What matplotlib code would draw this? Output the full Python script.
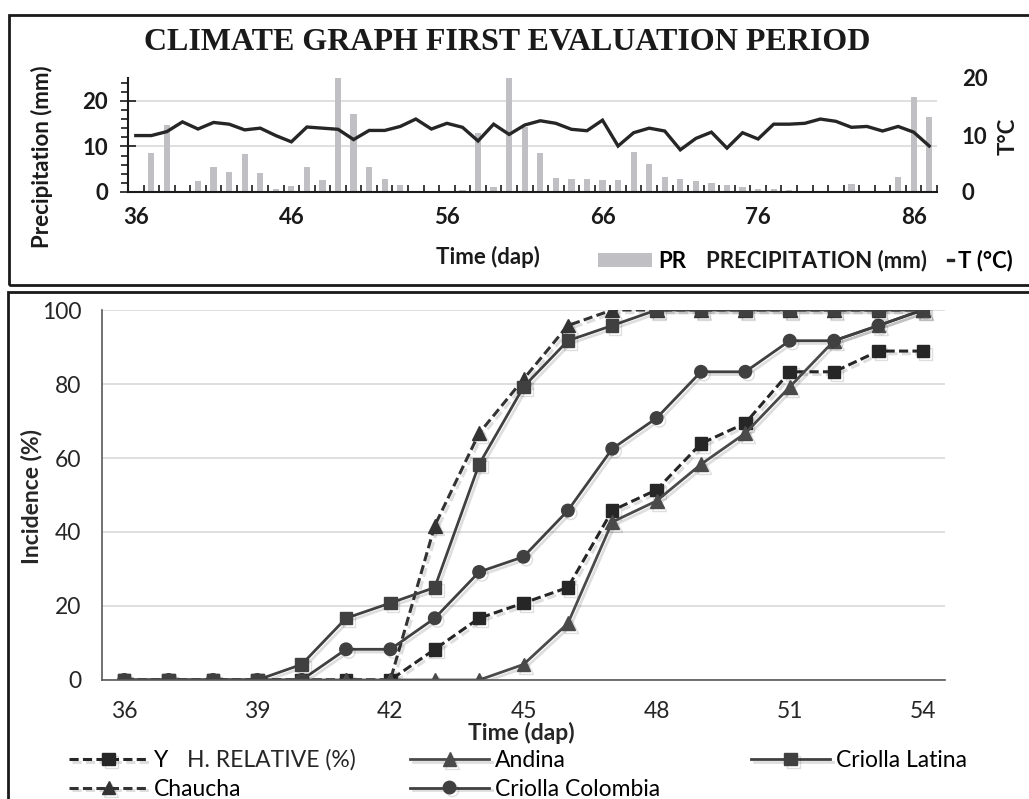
import numpy as np
import matplotlib
matplotlib.use('Agg')
import matplotlib.pyplot as plt
from matplotlib.patches import Rectangle
import matplotlib.patheffects as pe

plt.rcParams['font.family'] = ['Lato', 'DejaVu Sans']

# ---- climate data (top panel), days after planting 36..87
days_top = np.arange(36, 88)
precip = [0, 8.6, 14.8, 0.3, 2.4, 5.4, 4.3, 8.3, 4.1, 0.6,
          1.3, 5.4, 2.7, 25, 17.1, 5.4, 2.8, 1.5, 0.1, 0.2,
          0.2, 0.5, 12.9, 1.2, 25, 14.2, 8.5, 3.0, 2.8, 2.75,
          2.6, 2.6, 8.7, 6.2, 3.2, 2.75, 2.4, 1.9, 1.5, 1.0,
          0.6, 0.6, 0.5, 0.3, 0.3, 0.3, 1.7, 0.3, 0.2, 3.2,
          20.9, 16.4]
temp = [9.9, 9.9, 10.6, 12.3, 11.05, 12.2, 11.9, 10.9, 11.2, 9.9,
        8.8, 11.4, 11.2, 11.0, 9.2, 10.8, 10.8, 11.5, 12.8, 11.05,
        12.05, 11.35, 8.95, 11.9, 10.1, 11.75, 12.5, 12.05, 11.0, 10.75,
        12.6, 8.07, 10.4, 11.2, 10.7, 7.4, 9.4, 10.5, 7.7, 10.4,
        9.3, 11.9, 11.9, 12.05, 12.8, 12.4, 11.35, 11.5, 10.7, 11.5,
        10.5, 8.07]

# ---- incidence data (bottom panel), days 36..54
days = np.arange(36, 55)
yungay = [0, 0, 0, 0, 0, 0, 0, 8.3, 16.7, 20.8, 25, 45.8, 51.4, 63.9, 69.4, 83.3, 83.3, 88.9, 88.9]
chaucha = [0, 0, 0, 0, 0, 0, 0, 41.7, 66.7, 81.3, 95.8, 100, 100, 100, 100, 100, 100, 100, 100]
andina = [0, 0, 0, 0, 0, 0, 0, 0, 0, 4.2, 15.3, 42.7, 48.4, 58.3, 66.7, 79.2, 91.7, 95.8, 100]
colombia = [0, 0, 0, 0, 0, 8.3, 8.3, 16.7, 29.2, 33.3, 45.8, 62.5, 70.8, 83.3, 83.3, 91.7, 91.7, 95.8, 100]
latina = [0, 0, 0, 0, 4.2, 16.7, 20.8, 25, 58.3, 79.2, 91.7, 95.8, 100, 100, 100, 100, 100, 100, 100]

W, H = 1029, 799
fig = plt.figure(figsize=(W / 100, H / 100), dpi=100)


def fx(px):
    return px / W


def fy(py):
    return 1 - py / H


dark = '#1a1a1a'
fs_top = 16
fs_low = 16.5

# frames around the two panels
fig.add_artist(Rectangle((fx(9), fy(285)), fx(1100) - fx(9), fy(15) - fy(285),
                         transform=fig.transFigure, fill=False, ec=dark, lw=2))
fig.add_artist(Rectangle((fx(8), fy(900)), fx(1100) - fx(8), fy(292) - fy(900),
                         transform=fig.transFigure, fill=False, ec=dark, lw=2))

# ================= top: climate graph
ax1 = fig.add_axes([fx(128), fy(192), fx(937) - fx(128), fy(78) - fy(192)])
bars = ax1.bar(days_top, precip, width=0.4, color='#c0c0c4', zorder=2)
ax1.set_xlim(35.5, 87.5)
ax1.set_ylim(0, 25)
ax1.set_xticks(days_top[::10])
ax1.set_xticks(np.arange(35.5, 88, 1), minor=True)
ax1.set_yticks([0, 10, 20])
ax1.set_yticks(np.arange(0, 26, 2), minor=True)
ax1.tick_params(axis='x', which='major', length=0, pad=11, labelsize=fs_top, labelcolor=dark)
ax1.tick_params(axis='x', which='minor', direction='in', length=5, width=1.2, color=dark)
ax1.tick_params(axis='y', which='major', direction='inout', length=11, width=1.2,
                color=dark, pad=9, labelsize=fs_top, labelcolor=dark)
ax1.tick_params(axis='y', which='minor', direction='out', length=5, width=1.2, color=dark)
for lbl in ax1.get_xticklabels() + ax1.get_yticklabels():
    lbl.set_fontweight('bold')
ax1.yaxis.grid(True, which='major', color='#d9d9d9', lw=1.2)
ax1.set_axisbelow(True)
for s in ['top', 'right']:
    ax1.spines[s].set_visible(False)
for s in ['left', 'bottom']:
    ax1.spines[s].set_color(dark)
    ax1.spines[s].set_linewidth(1.5)

ax2 = ax1.twinx()
tline, = ax2.plot(days_top, temp, color='#262626', lw=2.4, solid_joinstyle='miter')
ax2.set_ylim(0, 20)
ax2.set_yticks([0, 10, 20])
ax2.tick_params(axis='y', length=0, pad=18, labelsize=fs_top, labelcolor=dark)
for lbl in ax2.get_yticklabels():
    lbl.set_fontweight('bold')
for s in ax2.spines.values():
    s.set_visible(False)

fig.text(fx(507), fy(43), 'CLIMATE GRAPH FIRST EVALUATION PERIOD', family='Liberation Serif',
         fontweight='bold', fontsize=23, ha='center', va='center', color=dark)
fig.text(fx(42), fy(157), 'Precipitation (mm)', rotation=90, fontweight='bold', fontsize=fs_top,
         ha='center', va='center', color=dark)
fig.text(fx(1008), fy(136), 'T°C', rotation=90, fontweight='bold', fontsize=fs_top,
         ha='center', va='center', color=dark)
fig.text(fx(488), fy(257), 'Time (dap)', fontweight='bold', fontsize=fs_top,
         ha='center', va='center', color=dark)
fig.text(fx(706), fy(261), 'PRECIPITATION (mm)', fontweight='bold', fontsize=fs_top,
         ha='left', va='center', color=dark)

leg_pr = fig.legend([bars.patches[1]], ['PR'], loc='center left', bbox_to_anchor=(fx(598), fy(261)),
                    frameon=False, borderpad=0, borderaxespad=0, handlelength=2.45,
                    handleheight=0.6, handletextpad=0.25, prop={'weight': 'bold', 'size': fs_top})
leg_t = fig.legend([tline], ['T (°C)'], loc='center left', bbox_to_anchor=(fx(948), fy(261)),
                   frameon=False, borderpad=0, borderaxespad=0, handlelength=0.22,
                   handletextpad=0.25, prop={'weight': 'bold', 'size': fs_top})

# ================= bottom: incidence
ax3 = fig.add_axes([fx(102), fy(680), fx(945) - fx(102), fy(310) - fy(680)])
shadow = [pe.SimpleLineShadow(offset=(2, -2), shadow_color='black', alpha=0.13), pe.Normal()]
dash = (0, (3, 1.4))
l_y, = ax3.plot(days, yungay, ls=dash, color='#262626', lw=2.2, marker='s', ms=9,
                label='Y', path_effects=shadow)
l_ch, = ax3.plot(days, chaucha, ls=dash, color='#333333', lw=2.2, marker='^', ms=10,
                 label='Chaucha', path_effects=shadow)
l_an, = ax3.plot(days, andina, color='#4a4a4a', lw=2, marker='^', ms=10,
                 label='Andina', path_effects=shadow)
l_co, = ax3.plot(days, colombia, color='#404040', lw=2, marker='o', ms=9,
                 label='Criolla Colombia', path_effects=shadow)
l_la, = ax3.plot(days, latina, color='#404040', lw=2, marker='s', ms=9,
                 label='Criolla Latina', path_effects=shadow)

ax3.set_xlim(35.5, 54.5)
ax3.set_ylim(0, 100)
ax3.set_xticks(days[::3])
ax3.set_yticks(np.arange(0, 101, 20))
ax3.tick_params(axis='both', length=0, labelsize=fs_low, labelcolor='#262626')
ax3.tick_params(axis='x', pad=15)
ax3.tick_params(axis='y', pad=15)
ax3.yaxis.grid(True, color='#d9d9d9', lw=1.2)
ax3.set_axisbelow(True)
for s in ['top', 'right']:
    ax3.spines[s].set_visible(False)
for s in ['left', 'bottom']:
    ax3.spines[s].set_color('#595959')
    ax3.spines[s].set_linewidth(1.2)

fig.text(fx(32), fy(496), 'Incidence (%)', rotation=90, fontweight='bold', fontsize=fs_low,
         ha='center', va='center', color='#262626')
fig.text(fx(521), fy(733), 'Time (dap)', fontweight='bold', fontsize=fs_low,
         ha='center', va='center', color='#262626')

leg_kw = dict(frameon=False, borderpad=0, borderaxespad=0, handlelength=3.45,
              handletextpad=0.25, labelspacing=0.33, fontsize=fs_low, loc='upper left')
fig.legend([l_y, l_ch], ['Y', 'Chaucha'], bbox_to_anchor=(fx(69), fy(750)), **leg_kw)
fig.legend([l_an, l_co], ['Andina', 'Criolla Colombia'], bbox_to_anchor=(fx(410), fy(750)), **leg_kw)
fig.legend([l_la], ['Criolla Latina'], bbox_to_anchor=(fx(751), fy(750)), **leg_kw)

# leftover label from the original sheet, next to the first legend entry
fig.text(fx(187), fy(760), 'H. RELATIVE (%)', fontsize=fs_low, ha='left', va='center',
         color='#262626')

fig.savefig('out.png', dpi=100)
